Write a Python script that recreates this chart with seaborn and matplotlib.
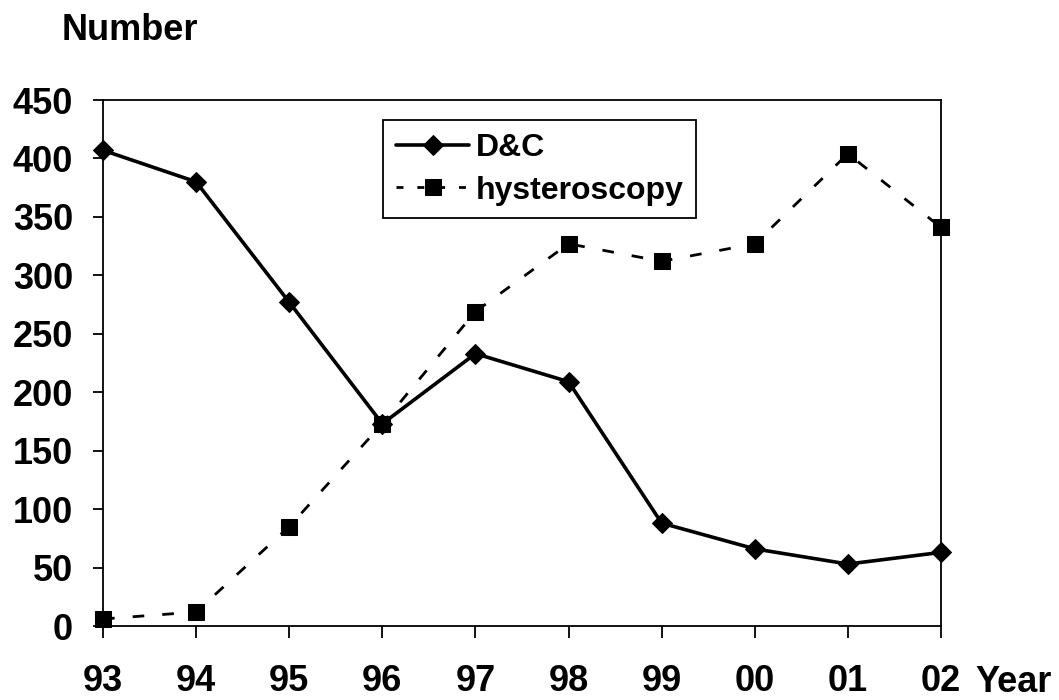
import matplotlib
matplotlib.use("Agg")
import matplotlib.pyplot as plt
import seaborn as sns
import pandas as pd

years = ["93", "94", "95", "96", "97", "98", "99", "00", "01", "02"]
dc = [407, 380, 277, 173, 233, 209, 88, 66, 53, 63]
hyst = [6, 12, 85, 173, 269, 327, 312, 327, 404, 341]

sns.set_theme(style="white")
plt.rcParams['font.family'] = ['Liberation Sans', 'DejaVu Sans']
plt.rcParams['font.weight'] = 'bold'
plt.rcParams['text.color'] = 'black'
plt.rcParams['xtick.color'] = 'black'
plt.rcParams['ytick.color'] = 'black'

df = pd.DataFrame({"x": range(len(years)), "dc": dc, "hyst": hyst})

fig = plt.figure(figsize=(10.59, 7.0), dpi=100)
ax = fig.add_axes([103/1059, 74/700, (941-103)/1059, (626-100)/700])

sns.lineplot(data=df, x="x", y="dc", ax=ax, color="black", linewidth=2.6,
             marker="D", markersize=10, markeredgecolor="black", label="D&C")
sns.lineplot(data=df, x="x", y="hyst", ax=ax, color="black", linewidth=2.0,
             marker="s", markersize=11, markeredgecolor="black",
             label="hysteroscopy")
ax.lines[1].set_dashes((4.2, 6.5))

ax.set_xlim(0, len(years) - 1)
ax.set_ylim(0, 450)
ax.set_yticks(range(0, 451, 50))
ax.set_xticks(range(len(years)))
ax.set_xticklabels(years)
ax.set_xlabel("")
ax.set_ylabel("")
for s in ax.spines.values():
    s.set_visible(True)
    s.set_color("black")
    s.set_linewidth(1.3)
ax.tick_params(axis="both", direction="out", width=1.3, colors="black",
               labelsize=26, bottom=True, left=True, labelcolor="black")
ax.tick_params(axis="y", length=7.5, pad=14)
ax.tick_params(axis="x", length=8.5, pad=19)
for t in ax.get_xticklabels() + ax.get_yticklabels():
    t.set_fontweight("bold")
for l in ax.lines:
    l.set_clip_on(False)

leg = ax.legend(loc="upper left", bbox_to_anchor=((383-103)/838, (626-120)/526),
                fontsize=23, frameon=True, fancybox=False, edgecolor="black",
                handlelength=2.3, borderpad=0.4, labelspacing=0.4, handletextpad=0.2,
                borderaxespad=0)
leg.get_frame().set_linewidth(1.3)
leg.get_frame().set_alpha(1)
for t in leg.get_texts():
    t.set_fontweight("bold")
    t.set_color("black")
leg.get_lines()[1].set_dashes((2.5, 5))

fig.text(62/1059, 1 - 30/700, "Number", fontsize=26, fontweight="bold",
         va="center", ha="left", color="black")
fig.text(975/1059, 1 - 682/700, "Year", fontsize=26, fontweight="bold",
         ha="left", va="center", color="black")

fig.savefig("out.png", dpi=100, facecolor="white")
